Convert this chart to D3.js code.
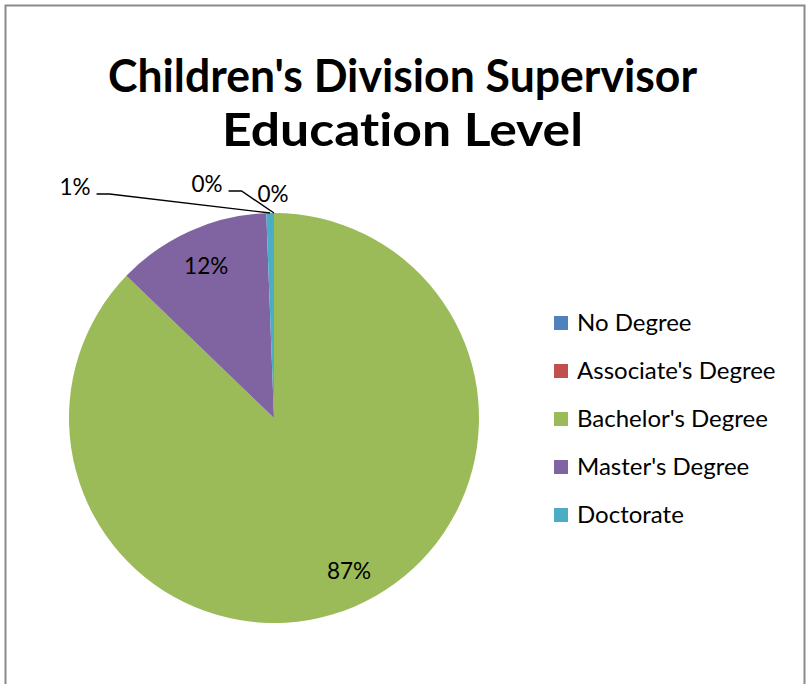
<!DOCTYPE html>
<html>
<head>
<meta charset="utf-8">
<script src="https://cdn.jsdelivr.net/npm/d3@7"></script>
<style>
  html, body { margin: 0; padding: 0; background: #fff; }
  svg { display: block; }
  text { font-family: Lato, "Open Sans", "DejaVu Sans", sans-serif; fill: #000; font-variant-ligatures: none; }
</style>
</head>
<body>
<svg id="chart" width="807" height="684"></svg>
<script>
// Education level of Children's Division supervisors (percent of staff)
const categories = ["No Degree", "Associate's Degree", "Bachelor's Degree", "Master's Degree", "Doctorate"];
const shares = [0, 0, 87.2, 12.2, 0.6];
const sliceColors = ["#4F81BD", "#C0504D", "#9BBB59", "#8064A2", "#4BACC6"];
const titleLines = ["Children's Division Supervisor", "Education Level"];

const W = 807, H = 684;
const svg = d3.select("#chart");

// chart-area frame
svg.append("rect")
  .attr("x", 5.5).attr("y", 5.5)
  .attr("width", 799).attr("height", 700)
  .attr("fill", "#fff")
  .attr("stroke", "#8a8a8a")
  .attr("stroke-width", 2);

// title
const title = svg.append("g");
const titleWidths = [589, 361];
const titleBase = [92, 146];
titleLines.forEach((t, i) => {
  title.append("text")
    .attr("x", 402.5).attr("y", titleBase[i])
    .attr("text-anchor", "middle")
    .attr("font-size", 45)
    .attr("font-weight", "bold")
    .attr("textLength", titleWidths[i])
    .attr("lengthAdjust", "spacingAndGlyphs")
    .text(t);
});

// pie
const cx = 274, cy = 418, R = 205;
const total = d3.sum(shares);
const pct = v => Math.round(v / total * 100) + "%";
const color = d3.scaleOrdinal().domain(categories).range(sliceColors);

const pie = d3.pie().sort(null).value(d => d.v).startAngle(0).endAngle(2 * Math.PI);
const data = pie(categories.map((c, i) => ({ c, v: shares[i] })));

const arc = d3.arc().innerRadius(0).outerRadius(R);
const labelArc = d3.arc().innerRadius(R * 0.81).outerRadius(R * 0.81);
const edgeArc = d3.arc().innerRadius(R).outerRadius(R);

const g = svg.append("g").attr("transform", `translate(${cx},${cy})`);

g.selectAll("path.slice")
  .data(data)
  .join("path")
  .attr("class", "slice")
  .attr("d", arc)
  .attr("fill", d => color(d.data.c));

// labels inside large slices (small nudge for the big slice label)
const LABEL_FS = 22.5;
const nudge = { 2: [10, 0] };
g.selectAll("text.inlabel")
  .data(data.filter(d => d.data.v / total >= 0.05))
  .join("text")
  .attr("class", "inlabel")
  .attr("x", d => labelArc.centroid(d)[0] + (nudge[d.index] ? nudge[d.index][0] : 0))
  .attr("y", d => labelArc.centroid(d)[1] + 8 + (nudge[d.index] ? nudge[d.index][1] : 0))
  .attr("text-anchor", "middle")
  .attr("font-size", LABEL_FS)
  .text(d => pct(d.data.v));

// labels outside the thin slices at the top, with leader lines where moved away
const outside = {
  0: { dx: -1, dy: -224, leader: false },
  1: { dx: -67, dy: -234, leader: true },
  4: { dx: -199, dy: -231, leader: true }
};
data.forEach((d, i) => {
  const o = outside[i];
  if (!o) return;
  const t = g.append("text")
    .attr("x", o.dx).attr("y", o.dy + 8)
    .attr("text-anchor", "middle")
    .attr("font-size", LABEL_FS)
    .text(pct(d.data.v));
  if (o.leader) {
    const bb = t.node().getBBox();
    const x0 = bb.x + bb.width + 6, y0 = o.dy + 7;
    const end = edgeArc.centroid(d);
    g.append("polyline")
      .attr("points", [[x0, y0], [x0 + 13, y0], end].map(p => p.join(",")).join(" "))
      .attr("fill", "none")
      .attr("stroke", "#000")
      .attr("stroke-width", 1.4);
  }
});

// legend
const legend = svg.append("g").attr("transform", "translate(554,316)");
const rows = legend.selectAll("g")
  .data(categories)
  .join("g")
  .attr("transform", (d, i) => `translate(0,${i * 48})`);
rows.append("rect")
  .attr("width", 14).attr("height", 14)
  .attr("fill", d => color(d));
rows.append("text")
  .attr("x", 23).attr("y", 14.5)
  .attr("font-size", 24)
  .text(d => d);
</script>
</body>
</html>
